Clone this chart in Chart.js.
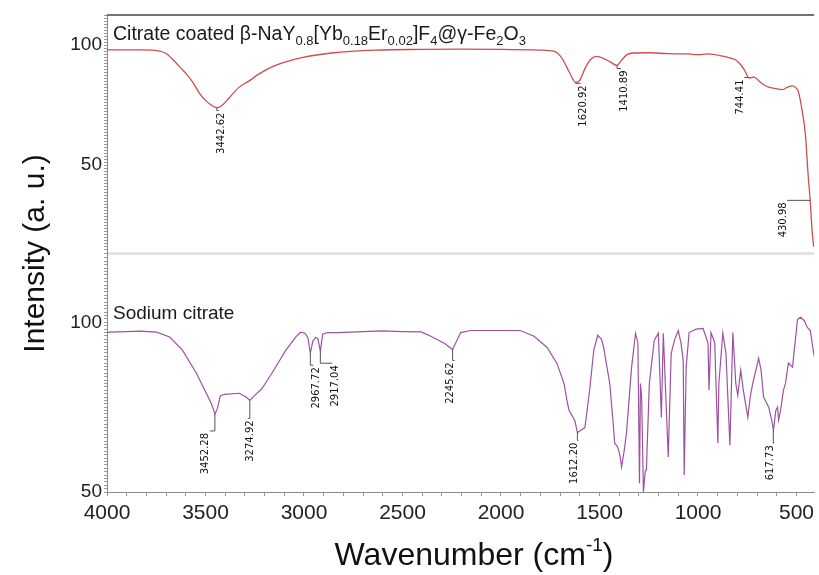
<!DOCTYPE html>
<html>
<head>
<meta charset="utf-8">
<script src="https://cdn.jsdelivr.net/npm/chart.js@4.4.1/dist/chart.umd.min.js"></script>
<style>
  html, body { margin: 0; padding: 0; background: #fff; }
</style>
</head>
<body>
<canvas id="ftir" width="819" height="575"></canvas>
<script>
// Top spectrum: citrate coated nanoparticles (red)
const topWavenumbers = [4000, 3820, 3740, 3700, 3660, 3620, 3597, 3560, 3531, 3500, 3470, 3442, 3415, 3380, 3329, 3280, 3228, 3160, 3092, 3000, 2860, 2638, 2400, 2200, 2000, 1800, 1730, 1690, 1655, 1621, 1600, 1575, 1545, 1514, 1480, 1445, 1411, 1390, 1360, 1327, 1250, 1150, 1050, 1000, 950, 880, 830, 808, 780, 760, 744, 730, 715, 690, 665, 641, 610, 571, 545, 520, 500, 490, 470, 455, 440, 431, 420, 412];
const topIntensity = [98, 98, 97.6, 96.5, 93.5, 90, 88, 84, 80, 77, 75, 74, 75, 78, 82.5, 85, 88, 91, 93, 95, 96.7, 97.9, 98.2, 98.3, 98.2, 97.9, 97.4, 94.5, 89, 84.5, 85.3, 90, 94, 95.3, 94.5, 93, 91.5, 93.5, 96, 96.7, 96.8, 96.4, 96.3, 96, 96.3, 95.5, 94.5, 93.8, 91.5, 89, 86.5, 86.4, 86.7, 85, 83.5, 82.5, 82, 81.5, 82.5, 83, 82, 80.5, 72, 63, 45, 36, 22, 16];

// Bottom spectrum: sodium citrate (purple)
const botWavenumbers = [4000, 3985, 3900, 3834, 3748, 3682, 3617, 3546, 3496, 3470, 3452, 3440, 3425, 3405, 3329, 3294, 3275, 3250, 3213, 3163, 3092, 3040, 3017, 2995, 2980, 2968, 2955, 2940, 2930, 2917, 2905, 2880, 2825, 2700, 2608, 2500, 2406, 2356, 2286, 2246, 2225, 2205, 2154, 2000, 1902, 1832, 1766, 1716, 1680, 1665, 1655, 1640, 1625, 1612, 1595, 1574, 1550, 1529, 1509, 1490, 1479, 1448, 1430, 1423, 1410, 1403, 1395, 1388, 1375, 1363, 1337, 1317, 1305, 1297, 1292, 1286, 1277, 1268, 1262, 1247, 1222, 1201, 1186, 1176, 1151, 1136, 1118, 1100, 1086, 1075, 1070, 1060, 1045, 1010, 974, 959, 949, 944, 934, 915, 899, 894, 874, 858, 838, 823, 808, 798, 783, 770, 747, 735, 722, 692, 680, 667, 641, 625, 617, 605, 596, 591, 581, 566, 556, 541, 520, 495, 480, 460, 445, 430, 415, 410];
const botIntensity = [97.0, 97.1, 97.3, 97.4, 97.1, 95.7, 91.8, 85, 79.1, 76, 73, 74.5, 78.3, 78.8, 79.1, 78, 77, 78.5, 80.5, 85, 91.8, 95.8, 97.1, 96.8, 95.5, 90.9, 94.5, 95.6, 95.3, 91.5, 96.5, 97, 97, 97.3, 97.5, 97.3, 97.2, 95.9, 93.8, 92.0, 94.5, 97, 97.6, 97.6, 97.6, 95.9, 92.6, 87.9, 82, 77, 74.1, 72.6, 71, 67.5, 68.2, 69, 80, 91.8, 96.2, 95, 92.6, 82, 70, 64.4, 63.5, 62.4, 60.5, 57.4, 62, 67.4, 86.8, 96.8, 94, 52.6, 82, 78, 50, 56, 56.5, 82, 94.7, 96.8, 72, 96.8, 60.3, 90.9, 95, 97.6, 93.8, 88.8, 55, 86.8, 97, 98, 98.2, 95.6, 93.8, 80, 97, 94, 64.4, 82, 96.8, 90.9, 63.8, 97, 82, 78.5, 85.9, 80, 72, 78, 82, 89.4, 86, 78, 75, 71, 68.2, 74, 75, 71.2, 74, 80, 82, 88, 86.8, 100.8, 101.5, 100.5, 98.5, 97.6, 91.8, 90];

// Axis tick labels
const xTickLabels = [4000, 3500, 3000, 2500, 2000, 1500, 1000, 500];
const yTickLabels = [100, 50];

// Marked peaks
const topPeaks = [3442.62, 1620.92, 1410.89, 744.41, 430.98];
const topPeakIntensity = [74, 84.5, 91.5, 86.5, 35.4];
const botPeaks = [3452.28, 3274.92, 2967.72, 2917.04, 2245.62, 1612.20, 617.73];
const botPeakIntensity = [73, 77, 90.9, 91.5, 92.0, 67.5, 68.2];

// label offsets from each peak, in px
const topLabelShift = [[5, 3], [8, 1], [7, 3], [-8, 0], [-27, 0]];
const botLabelShift = [[-9, 17], [1, 18], [6, 12], [15, 12], [-2, 11], [-3, 8], [-3, 13]];

const toPoints = (xs, ys) => xs.map((x, i) => ({ x: x, y: ys[i] }));
const near = (v, list) => list.some(t => Math.abs(v - t) < 1e-6);

function drawRich(ctx, parts, x, y, size) {
  // parts: [text, isSubscript]
  let cx = x;
  parts.forEach(([t, sub]) => {
    ctx.font = (sub ? Math.round(size * 0.68) : size) + "px 'Liberation Sans', Arial, sans-serif";
    ctx.fillText(t, cx, sub ? y + size * 0.28 : y);
    cx += ctx.measureText(t).width;
  });
}

function drawPeaks(ctx, xs, ys, peaks, vals, shifts) {
  peaks.forEach((w, i) => {
    const px = xs.getPixelForValue(w);
    const py = ys.getPixelForValue(vals[i]);
    const [dx, dy] = shifts[i];
    ctx.strokeStyle = '#555';
    ctx.lineWidth = 1;
    ctx.beginPath();
    ctx.moveTo(px, py);
    ctx.lineTo(px, py + dy);
    ctx.lineTo(px + dx + (dx < 0 ? 4 : -3), py + dy);
    ctx.stroke();
    ctx.save();
    ctx.translate(px + dx, py + dy + 2);
    ctx.rotate(-Math.PI / 2);
    ctx.font = "10px 'DejaVu Sans', sans-serif";
    ctx.fillStyle = '#111';
    ctx.textAlign = 'right';
    ctx.textBaseline = 'middle';
    ctx.fillText(w.toFixed(2), 0, 0);
    ctx.restore();
  });
}

const extras = {
  id: 'extras',
  afterDraw(chart) {
    const { ctx, chartArea: a, scales } = chart;
    const x = scales.x, yT = scales.yTop, yB = scales.yBot;
    ctx.save();
    // frame top line
    ctx.strokeStyle = '#444';
    ctx.lineWidth = 1.5;
    ctx.beginPath();
    ctx.moveTo(a.left, a.top);
    ctx.lineTo(a.right, a.top);
    ctx.stroke();
    // panel separator
    ctx.strokeStyle = '#e4e4e4';
    ctx.lineWidth = 3;
    ctx.beginPath();
    ctx.moveTo(a.left + 1, yT.bottom);
    ctx.lineTo(a.right, yT.bottom);
    ctx.stroke();

    // series names
    ctx.fillStyle = '#1a1a1a';
    ctx.textBaseline = 'alphabetic';
    drawRich(ctx, [['Citrate coated \u03B2-NaY', 0], ['0.8', 1], ['[Yb', 0], ['0.18', 1], ['Er', 0], ['0.02', 1],
      [']F', 0], ['4', 1], ['@\u03B3-Fe', 0], ['2', 1], ['O', 0], ['3', 1]], a.left + 6, a.top + 25, 19.5);
    drawRich(ctx, [['Sodium citrate', 0]], a.left + 6, yB.top + 65, 19);

    drawPeaks(ctx, x, yT, topPeaks, topPeakIntensity, topLabelShift);
    drawPeaks(ctx, x, yB, botPeaks, botPeakIntensity, botLabelShift);

    // axis titles
    ctx.fillStyle = '#111';
    ctx.save();
    ctx.translate(44, (a.top + a.bottom) / 2);
    ctx.rotate(-Math.PI / 2);
    ctx.font = "30px 'Liberation Sans', Arial, sans-serif";
    ctx.textAlign = 'center';
    ctx.fillText('Intensity (a. u.)', 0, 0);
    ctx.restore();

    ctx.font = "32px 'Liberation Sans', Arial, sans-serif";
    const main = 'Wavenumber (cm', sup = '-1', end = ')';
    const w1 = ctx.measureText(main).width;
    ctx.font = "19px 'Liberation Sans', Arial, sans-serif";
    const w2 = ctx.measureText(sup).width;
    ctx.font = "32px 'Liberation Sans', Arial, sans-serif";
    const w3 = ctx.measureText(end).width;
    const sx = 474 - (w1 + w2 + w3) / 2, by = 565;
    ctx.textAlign = 'left';
    ctx.fillText(main, sx, by);
    ctx.fillText(end, sx + w1 + w2, by);
    ctx.font = "19px 'Liberation Sans', Arial, sans-serif";
    ctx.fillText(sup, sx + w1, by - 14);
    ctx.restore();
  }
};

const yAxis = (min, max, step) => ({
  type: 'linear',
  position: 'left',
  stack: 'panels',
  stackWeight: 1,
  min: min,
  max: max,
  afterFit: s => { s.width = 107; },
  border: { display: true, color: '#8a8a8a', width: 1 },
  grid: { display: true, drawOnChartArea: false, tickLength: 3, color: '#9a9a9a' },
  ticks: {
    stepSize: step,
    autoSkip: false,
    maxTicksLimit: 300,
    padding: 2,
    color: '#222',
    font: { size: 19 },
    callback: v => near(v, yTickLabels) ? String(Math.round(v)) : ''
  }
});

// minor ticks every 100 between the labelled ones
const xMinor = [];
for (let v = xTickLabels[0]; v >= xTickLabels[xTickLabels.length - 1]; v -= 100) xMinor.push({ value: v });

new Chart(document.getElementById('ftir'), {
  type: 'line',
  data: {
    datasets: [
      {
        label: 'Citrate coated',
        data: toPoints(topWavenumbers, topIntensity),
        yAxisID: 'yTop',
        borderColor: '#d24b4e',
        borderWidth: 1.3,
        pointRadius: 0,
        cubicInterpolationMode: 'monotone'
      },
      {
        label: 'Sodium citrate',
        data: toPoints(botWavenumbers, botIntensity),
        yAxisID: 'yBot',
        borderColor: '#9d52a0',
        borderWidth: 1.2,
        pointRadius: 0,
        tension: 0
      }
    ]
  },
  options: {
    responsive: false,
    animation: false,
    layout: { padding: { top: 15, right: 0, left: 0, bottom: 0 } },
    plugins: { legend: { display: false }, tooltip: { enabled: false } },
    scales: {
      x: {
        type: 'linear',
        reverse: true,
        min: 410,
        max: 4000,
        afterFit: s => { s.height = 83; },
        afterBuildTicks: s => { s.ticks = xMinor.map(t => ({ value: t.value })); },
        border: { display: true, color: '#8a8a8a', width: 1 },
        grid: { display: true, drawOnChartArea: false, tickLength: 4, color: '#9a9a9a' },
        ticks: {
          autoSkip: false,
          maxRotation: 0,
          padding: 5,
          color: '#222',
          font: { size: 21 },
          callback: v => near(v, xTickLabels) ? String(v) : ''
        }
      },
      // later-listed left axes stack on top
      yBot: yAxis(50, 120.3, 1),
      yTop: yAxis(13.3, 112.5, 1.25)
    }
  },
  plugins: [extras]
});
</script>
</body>
</html>
